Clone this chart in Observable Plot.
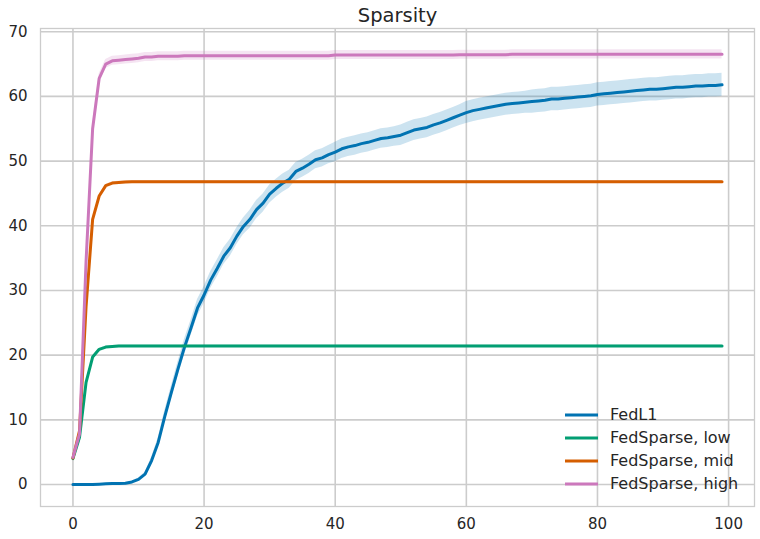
<!DOCTYPE html>
<html>
<head>
<meta charset="utf-8">
<script src="https://cdn.jsdelivr.net/npm/d3@7"></script>
<script src="https://cdn.jsdelivr.net/npm/@observablehq/plot@0.6"></script>
<style>
  body { margin: 0; background: white; }
  #wrap { position: relative; width: 760px; height: 539px; font-family: "DejaVu Sans", sans-serif; color: #262626; }
  #legend { position: absolute; left: 565px; top: 403px; font-size: 16px; }
  .row { display: flex; align-items: center; height: 23px; }
  .row svg { margin-right: 12px; }
</style>
</head>
<body>
<div id="wrap"><div id="legend"></div></div>
<script>
const title = "Sparsity";
const seriesNames = ["FedL1", "FedSparse, low", "FedSparse, mid", "FedSparse, high"];
const seriesColors = ["#0173b2", "#029e73", "#d55e00", "#cc78bc"];
const xTicks = [0, 20, 40, 60, 80, 100];
const yTicks = [0, 10, 20, 30, 40, 50, 60, 70];
const rounds = d3.range(100);

const fedL1 = [
  0.0, 0.0, 0.0, 0.0, 0.05, 0.1, 0.15, 0.15, 0.2, 0.4,
  0.8, 1.6, 3.7, 6.5, 10.5, 14.2, 17.8, 21.2, 24.2, 27.3,
  29.3, 31.6, 33.4, 35.3, 36.6, 38.4, 39.9, 41.0, 42.5, 43.5,
  44.9, 45.8, 46.6, 47.2, 48.4, 48.9, 49.5, 50.2, 50.5, 51.0,
  51.4, 51.9, 52.2, 52.4, 52.7, 52.9, 53.2, 53.5, 53.6, 53.8,
  54.0, 54.4, 54.8, 55.0, 55.2, 55.6, 55.9, 56.3, 56.7, 57.1,
  57.5, 57.8, 58.0, 58.2, 58.4, 58.6, 58.8, 58.9, 59.0, 59.1,
  59.2, 59.3, 59.4, 59.6, 59.6, 59.7, 59.8, 59.9, 60.0, 60.1,
  60.3, 60.4, 60.5, 60.6, 60.7, 60.8, 60.9, 61.0, 61.1, 61.1,
  61.2, 61.3, 61.4, 61.4, 61.5, 61.6, 61.6, 61.7, 61.7, 61.8
];
const fedL1Spread = [
  0.05, 0.05, 0.05, 0.05, 0.05, 0.05, 0.05, 0.05, 0.05, 0.1,
  0.2, 0.3, 0.5, 0.7, 0.9, 1.0, 1.1, 1.2, 1.2, 1.3,
  1.3, 1.3, 1.3, 1.3, 1.3, 1.3, 1.3, 1.4, 1.4, 1.4,
  1.4, 1.4, 1.4, 1.4, 1.4, 1.4, 1.4, 1.4, 1.4, 1.4,
  1.5, 1.5, 1.5, 1.5, 1.5, 1.5, 1.5, 1.5, 1.5, 1.5,
  1.6, 1.6, 1.6, 1.6, 1.6, 1.6, 1.6, 1.6, 1.6, 1.6,
  1.7, 1.7, 1.7, 1.7, 1.7, 1.7, 1.7, 1.7, 1.7, 1.7,
  1.8, 1.8, 1.8, 1.8, 1.8, 1.8, 1.8, 1.8, 1.8, 1.8,
  1.8, 1.8, 1.8, 1.8, 1.8, 1.8, 1.8, 1.8, 1.8, 1.8,
  1.8, 1.8, 1.8, 1.8, 1.8, 1.8, 1.8, 1.8, 1.8, 1.8
];
const sparseLow = [
  4.0, 7.3, 15.8, 19.7, 20.9, 21.25, 21.35, 21.4, 21.4, 21.4,
  21.4, 21.4, 21.4, 21.4, 21.4, 21.4, 21.4, 21.4, 21.4, 21.4,
  21.4, 21.4, 21.4, 21.4, 21.4, 21.4, 21.4, 21.4, 21.4, 21.4,
  21.4, 21.4, 21.4, 21.4, 21.4, 21.4, 21.4, 21.4, 21.4, 21.4,
  21.4, 21.4, 21.4, 21.4, 21.4, 21.4, 21.4, 21.4, 21.4, 21.4,
  21.4, 21.4, 21.4, 21.4, 21.4, 21.4, 21.4, 21.4, 21.4, 21.4,
  21.4, 21.4, 21.4, 21.4, 21.4, 21.4, 21.4, 21.4, 21.4, 21.4,
  21.4, 21.4, 21.4, 21.4, 21.4, 21.4, 21.4, 21.4, 21.4, 21.4,
  21.4, 21.4, 21.4, 21.4, 21.4, 21.4, 21.4, 21.4, 21.4, 21.4,
  21.4, 21.4, 21.4, 21.4, 21.4, 21.4, 21.4, 21.4, 21.4, 21.4
];
const sparseMid = [
  4.1, 8.3, 27.5, 41.0, 44.6, 46.2, 46.6, 46.7, 46.75, 46.8,
  46.8, 46.8, 46.8, 46.8, 46.8, 46.8, 46.8, 46.8, 46.8, 46.8,
  46.8, 46.8, 46.8, 46.8, 46.8, 46.8, 46.8, 46.8, 46.8, 46.8,
  46.8, 46.8, 46.8, 46.8, 46.8, 46.8, 46.8, 46.8, 46.8, 46.8,
  46.8, 46.8, 46.8, 46.8, 46.8, 46.8, 46.8, 46.8, 46.8, 46.8,
  46.8, 46.8, 46.8, 46.8, 46.8, 46.8, 46.8, 46.8, 46.8, 46.8,
  46.8, 46.8, 46.8, 46.8, 46.8, 46.8, 46.8, 46.8, 46.8, 46.8,
  46.8, 46.8, 46.8, 46.8, 46.8, 46.8, 46.8, 46.8, 46.8, 46.8,
  46.8, 46.8, 46.8, 46.8, 46.8, 46.8, 46.8, 46.8, 46.8, 46.8,
  46.8, 46.8, 46.8, 46.8, 46.8, 46.8, 46.8, 46.8, 46.8, 46.8
];
const sparseHigh = [
  4.2, 7.8, 34.5, 55.0, 62.8, 65.0, 65.5, 65.6, 65.7, 65.8,
  65.9, 66.1, 66.1, 66.2, 66.2, 66.2, 66.2, 66.3, 66.3, 66.3,
  66.3, 66.3, 66.3, 66.3, 66.3, 66.3, 66.3, 66.3, 66.3, 66.3,
  66.3, 66.3, 66.3, 66.3, 66.3, 66.3, 66.3, 66.3, 66.3, 66.3,
  66.4, 66.4, 66.4, 66.4, 66.4, 66.4, 66.4, 66.4, 66.4, 66.4,
  66.4, 66.4, 66.4, 66.4, 66.4, 66.4, 66.4, 66.4, 66.4, 66.45,
  66.45, 66.45, 66.45, 66.45, 66.45, 66.45, 66.45, 66.5, 66.5, 66.5,
  66.5, 66.5, 66.5, 66.5, 66.5, 66.5, 66.5, 66.5, 66.5, 66.5,
  66.5, 66.5, 66.5, 66.5, 66.5, 66.5, 66.5, 66.5, 66.5, 66.5,
  66.5, 66.5, 66.5, 66.5, 66.5, 66.5, 66.5, 66.5, 66.5, 66.5
];
const sparseSpread = [0.15, 0.2, 0.7];  // low, mid, high band half-widths

const seriesValues = [fedL1, sparseLow, sparseMid, sparseHigh];
const rows = [];
seriesValues.forEach((vals, s) => {
  vals.forEach((v, i) => {
    const sp = s === 0 ? fedL1Spread[i] : sparseSpread[s - 1];
    rows.push({series: seriesNames[s], x: rounds[i], y: v, lo: v - sp, hi: v + sp});
  });
});

const marks = [
  Plot.gridX(xTicks, {stroke: "#cccccc", strokeOpacity: 1, strokeWidth: 1.6}),
  Plot.gridY(yTicks, {stroke: "#cccccc", strokeOpacity: 1, strokeWidth: 1.6}),
  Plot.frame({stroke: "#cccccc", strokeWidth: 1.3}),
  Plot.axisX(xTicks, {tickSize: 0, tickPadding: 12, fontSize: 15}),
  Plot.axisY(yTicks, {tickSize: 0, tickPadding: 13, fontSize: 15})
];
seriesNames.forEach((name) => {
  const d = rows.filter(r => r.series === name);
  marks.push(Plot.areaY(d, {x: "x", y1: "lo", y2: "hi", fill: "series", fillOpacity: 0.2, curve: "linear"}));
  marks.push(Plot.line(d, {x: "x", y: "y", stroke: "series", strokeWidth: 3, curve: "linear"}));
});
marks.push(Plot.text([title], {frameAnchor: "top", lineAnchor: "bottom", dy: -7, fontSize: 19.5, fill: "#262626"}));

const chart = Plot.plot({
  width: 760,
  height: 539,
  marginLeft: 40,
  marginRight: 6,
  marginTop: 28,
  marginBottom: 33,
  x: {domain: [-4.95, 103.95], label: null},
  y: {domain: [-3.4, 70.5], label: null},
  color: {domain: seriesNames, range: seriesColors},
  style: {fontFamily: "DejaVu Sans", fontSize: "15px", color: "#262626", background: "white", overflow: "visible"},
  marks
});
document.getElementById("wrap").prepend(chart);

const legend = document.getElementById("legend");
seriesNames.forEach((name, i) => {
  const row = document.createElement("div");
  row.className = "row";
  row.innerHTML = `<svg width="33" height="6"><line x1="0" x2="33" y1="3" y2="3" stroke="${seriesColors[i]}" stroke-width="3"/></svg><span>${name}</span>`;
  legend.appendChild(row);
});
</script>
</body>
</html>
